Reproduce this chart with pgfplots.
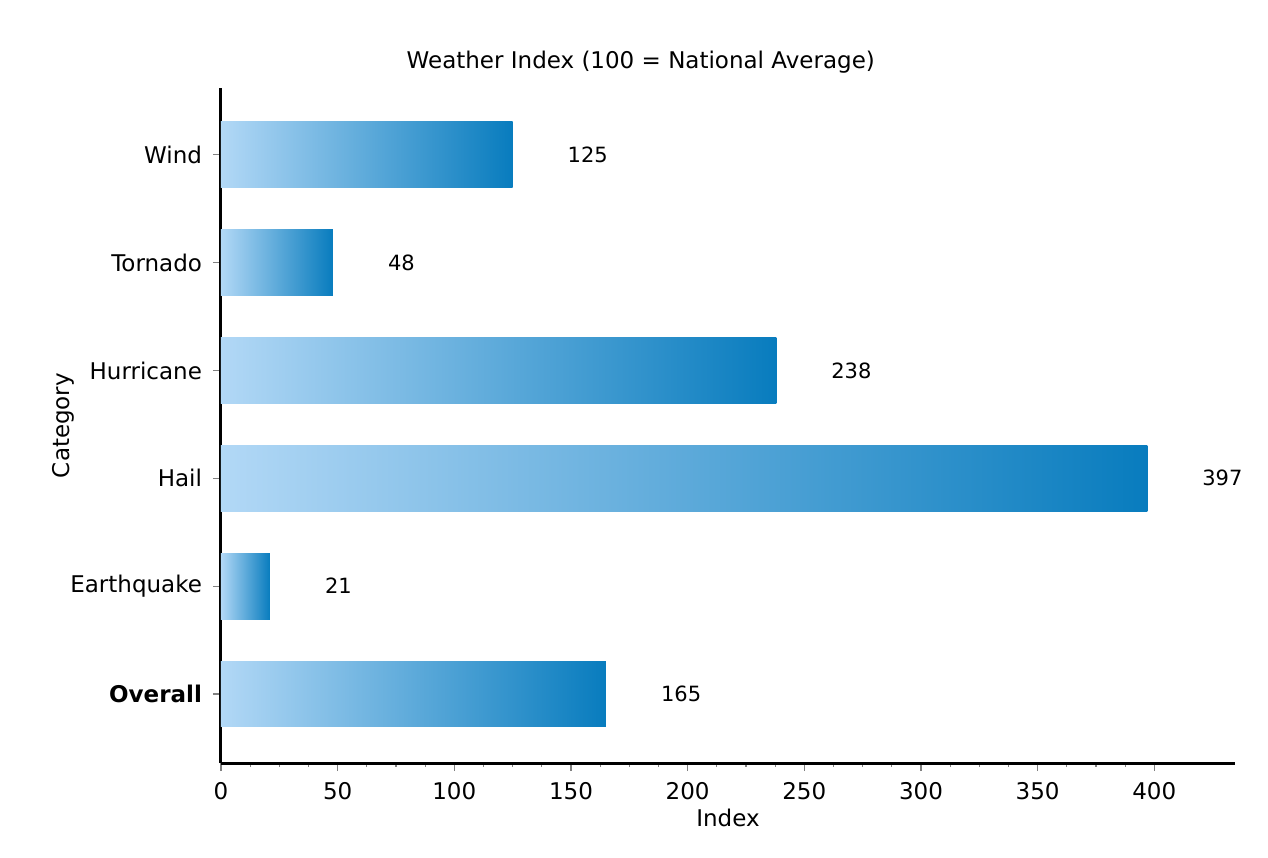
\documentclass[border=0pt]{standalone}
\usepackage{pgfplots}
\pgfplotsset{compat=1.18}
\usepackage{fontspec}
\setmainfont{DejaVu Sans}
\definecolor{barL}{RGB}{178,216,246}
\definecolor{barR}{RGB}{8,124,190}
\newcommand{\fs}{\fontsize{10.5}{12}\selectfont}
\newcommand{\fl}{\fontsize{11.5}{13}\selectfont}
\pgfplotsset{
  onebar/.style={xbar, bar width=0.61, bar shift=0pt, draw=none,
    left color=barL, right color=barR,
    nodes near coords, point meta=explicit symbolic,
    every node near coord/.style={font=\fs, black, anchor=west, xshift=24pt}},
}
\begin{document}
\begin{tikzpicture}
\useasboundingbox[fill=white] (-110.5pt,-47pt) rectangle (523.5pt,381.5pt);
\begin{axis}[
  scale only axis,
  width=507pt, height=337.5pt,
  xmin=0, xmax=434.6,
  ymin=-0.64, ymax=5.62,
  axis x line=bottom, axis y line=left,
  separate axis lines,
  every outer x axis line/.append style={-, line width=1.5pt, black},
  every outer y axis line/.append style={-, line width=1.5pt, black},
  xtick={0,50,...,400},
  minor x tick num=3,
  ytick={0,1,2,3,4,5},
  yticklabels={\textbf{Overall},Earthquake,Hail,Hurricane,Tornado,Wind},
  tick align=outside,
  major tick length=4pt, minor tick length=2pt,
  every tick/.style={black!50, line width=0.6pt},
  /pgf/number format/assume math mode=true,
  ticklabel style={font=\fl},
  x tick label style={yshift=-2pt},
  y tick label style={xshift=-2pt},
  title={Weather Index (100 = National Average)},
  title style={font=\fl, at={(axis description cs:0.414,1.0415)}, anchor=center, yshift=-7pt},
  xlabel={Index},
  xlabel style={font=\fl, at={(axis description cs:0.5,-0.0815)}, anchor=center},
  ylabel={Category},
  ylabel style={font=\fl, at={(axis description cs:-0.155,0.5)}, anchor=center},
  clip=false,
]
\addplot[onebar] table[meta=label] {
x y label
165 0 165
};
\addplot[onebar] table[meta=label] {
x y label
21 1 21
};
\addplot[onebar] table[meta=label] {
x y label
397 2 397
};
\addplot[onebar] table[meta=label] {
x y label
238 3 238
};
\addplot[onebar] table[meta=label] {
x y label
48 4 48
};
\addplot[onebar] table[meta=label] {
x y label
125 5 125
};
\end{axis}
\end{tikzpicture}
\end{document}
